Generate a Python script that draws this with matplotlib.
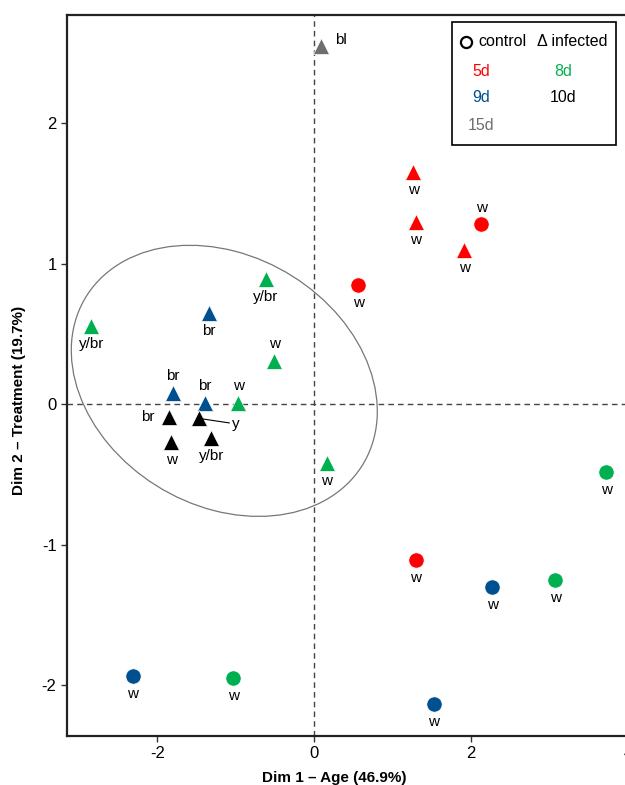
import numpy as np
import matplotlib
matplotlib.use('Agg')
import matplotlib.pyplot as plt
from matplotlib.patches import Ellipse, Rectangle

plt.rcParams['font.family'] = ['Liberation Sans', 'DejaVu Sans']
plt.rcParams['axes.unicode_minus'] = False

# PCA scores, one entry per sample
dim1 = [0.56, 2.13, 1.29, 1.26, 1.29, 1.91,
        3.72, 3.07, -1.03, -0.62, -2.84, -0.51, -0.97, 0.16,
        2.27, -2.31, 1.52, -1.34, -1.80, -1.39,
        -1.85, -1.47, -1.82, -1.31,
        0.09]
dim2 = [0.85, 1.28, -1.11, 1.65, 1.30, 1.10,
        -0.48, -1.25, -1.95, 0.89, 0.56, 0.31, 0.01, -0.42,
        -1.30, -1.93, -2.13, 0.65, 0.08, 0.01,
        -0.09, -0.10, -0.27, -0.24,
        2.55]
day = ['5d'] * 6 + ['8d'] * 8 + ['9d'] * 6 + ['10d'] * 4 + ['15d']
status = (['control'] * 3 + ['infected'] * 3
          + ['control'] * 3 + ['infected'] * 5
          + ['control'] * 3 + ['infected'] * 3
          + ['infected'] * 4
          + ['infected'])
colour = ['w', 'w', 'w', 'w', 'w', 'w',
          'w', 'w', 'w', 'y/br', 'y/br', 'w', 'w', 'w',
          'w', 'w', 'w', 'br', 'br', 'br',
          'br', 'y', 'w', 'y/br',
          'bl']

# where each colour tag sits relative to its marker
tag_side = ['below', 'above', 'below', 'below', 'below', 'below',
            'below', 'below', 'below', 'below', 'below', 'above', 'above', 'below',
            'below', 'below', 'below', 'below', 'above', 'above',
            'left', 'leader', 'below', 'below',
            'right']

# confidence ellipse for the infected cluster (centre + covariance)
ell_centre = (-1.146, 0.167)
ell_cov = np.array([[3.80, -0.4225], [-0.4225, 0.930]])

day_colours = {'5d': '#ff0000', '8d': '#00b050', '9d': '#004f8f',
               '10d': '#000000', '15d': '#6e6e6e'}
day_order = ['5d', '8d', '9d', '10d', '15d']

fig = plt.figure(figsize=(6.25, 7.85), dpi=100)
ax = fig.add_axes([0.1072, 0.0624, 0.9105, 0.9185])
ax.set_xlim(-3.15, 4.1)
ax.set_ylim(-2.36, 2.77)

ax.axhline(0, color='#444444', lw=1, ls=(0, (4, 3)), zorder=1)
ax.axvline(0, color='#444444', lw=1, ls=(0, (4, 3)), zorder=1)

# ellipse from covariance eigen-decomposition
vals, vecs = np.linalg.eigh(ell_cov)
order = vals.argsort()[::-1]
vals, vecs = vals[order], vecs[:, order]
angle = np.degrees(np.arctan2(vecs[1, 0], vecs[0, 0]))
ax.add_patch(Ellipse(ell_centre, 2 * np.sqrt(vals[0]), 2 * np.sqrt(vals[1]),
                     angle=angle, fill=False, ec='#777777', lw=0.9, zorder=1))

offsets = {'below': ((0, -13), 'center', 'center'),
           'above': ((0, 12), 'center', 'center'),
           'left': ((-15, 0), 'center', 'center'),
           'right': ((10, 4), 'left', 'center'),
           'leader': ((24, -4), 'left', 'center')}

for x, y, d, s, c, side in zip(dim1, dim2, day, status, colour, tag_side):
    if s == 'control':
        ax.plot(x, y, marker='o', ms=11, color=day_colours[d], mec='white',
                mew=0.5, ls='none', zorder=3)
    else:
        ax.plot(x, y, marker='^', ms=12, color=day_colours[d], mec='white',
                mew=0.5, ls='none', zorder=3)
    off, ha, va = offsets[side]
    if side == 'leader':
        ax.annotate(c, (x, y), xytext=off, textcoords='offset points',
                    ha=ha, va=va, fontsize=11,
                    arrowprops=dict(arrowstyle='-', color='black', lw=0.8,
                                    shrinkA=0, shrinkB=1))
    else:
        ax.annotate(c, (x, y), xytext=off, textcoords='offset points',
                    ha=ha, va=va, fontsize=11)

# legend box
ax.add_patch(Rectangle((0.677, 0.820), 0.288, 0.170, transform=ax.transAxes,
                       fill=True, fc='white', ec='black', lw=1.2, zorder=4))
ax.plot(0.701, 0.9626, marker='o', ms=8, mfc='none', mec='black', mew=1.6,
        transform=ax.transAxes, zorder=5, clip_on=False)
ax.text(0.7223, 0.9626, 'control', transform=ax.transAxes, fontsize=11.5,
        va='center', ha='left', zorder=5)
ax.text(0.826, 0.9626, 'Δ infected', transform=ax.transAxes, fontsize=11.5,
        va='center', ha='left', zorder=5)
leg_xy = [(0.7276, 0.921), (0.872, 0.921), (0.7276, 0.885),
          (0.872, 0.885), (0.7276, 0.847)]
for d, (lx, ly) in zip(day_order, leg_xy):
    ax.text(lx, ly, d, color=day_colours[d], transform=ax.transAxes,
            fontsize=11.5, ha='center', va='center', zorder=5)

ax.set_xticks([-2, 0, 2, 4])
ax.set_yticks([-2, -1, 0, 1, 2])
ax.tick_params(labelsize=12, length=4, width=1, color='#333333')
for side in ['left', 'bottom', 'top', 'right']:
    ax.spines[side].set_linewidth(1.6)
    ax.spines[side].set_color('#222222')

ax.set_xlabel('Dim 1 – Age (46.9%)', fontsize=11, fontweight='bold')
ax.set_ylabel('Dim 2 – Treatment (19.7%)', fontsize=11, fontweight='bold')
ax.xaxis.set_label_coords(0.469, -0.0485)
ax.yaxis.set_label_coords(-0.072, 0.466)

fig.savefig('out.png', dpi=100)
